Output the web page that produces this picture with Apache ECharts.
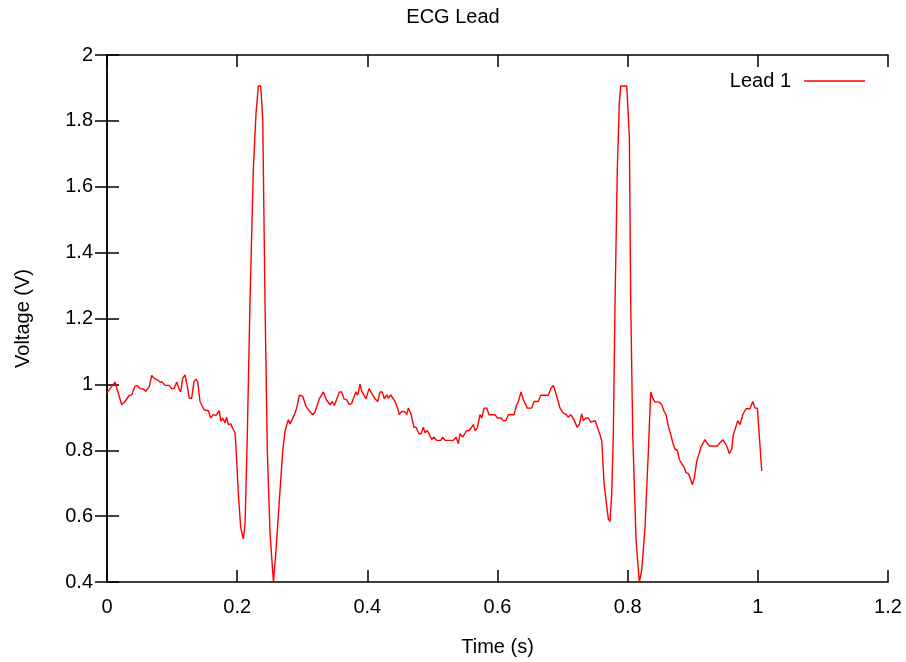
<!DOCTYPE html>
<html>
<head>
<meta charset="utf-8">
<title>ECG Lead</title>
<script src="https://cdn.jsdelivr.net/npm/echarts@6/dist/echarts.min.js"></script>
<style>
  html, body { margin: 0; padding: 0; background: #fff; overflow: hidden; }
  #chart { width: 906px; height: 662px; }
</style>
</head>
<body>
<div id="chart"></div>
<script>
// Lead 1 samples: time in seconds and voltage in volts
const timeSec = [
  0.0000, 0.0123, 0.0226, 0.0277, 0.0303, 0.0343, 0.0380, 0.0430, 0.0466, 0.0507,
  0.0558, 0.0595, 0.0650, 0.0687, 0.0722, 0.0773, 0.0814, 0.0850, 0.0891, 0.0953,
  0.0994, 0.1030, 0.1071, 0.1111, 0.1132, 0.1163, 0.1199, 0.1234, 0.1265, 0.1301,
  0.1337, 0.1368, 0.1394, 0.1429, 0.1491, 0.1557, 0.1593, 0.1633, 0.1675, 0.1695,
  0.1726, 0.1747, 0.1778, 0.1813, 0.1839, 0.1864, 0.1901, 0.1932, 0.1967, 0.1982,
  0.2018, 0.2054, 0.2094, 0.2121, 0.2156, 0.2197, 0.2248, 0.2290, 0.2325, 0.2362,
  0.2393, 0.2428, 0.2463, 0.2505, 0.2558, 0.2597, 0.2648, 0.2700, 0.2735, 0.2786,
  0.2812, 0.2873, 0.2915, 0.2955, 0.3007, 0.3058, 0.3109, 0.3161, 0.3196, 0.3262,
  0.3324, 0.3376, 0.3427, 0.3462, 0.3493, 0.3570, 0.3606, 0.3642, 0.3683, 0.3723,
  0.3760, 0.3822, 0.3852, 0.3888, 0.3914, 0.3980, 0.4026, 0.4052, 0.4118, 0.4160,
  0.4195, 0.4230, 0.4261, 0.4298, 0.4323, 0.4359, 0.4425, 0.4461, 0.4491, 0.4528,
  0.4579, 0.4605, 0.4630, 0.4667, 0.4717, 0.4748, 0.4794, 0.4825, 0.4860, 0.4886,
  0.4922, 0.4952, 0.4989, 0.5025, 0.5066, 0.5128, 0.5158, 0.5194, 0.5321, 0.5363,
  0.5398, 0.5424, 0.5466, 0.5527, 0.5567, 0.5629, 0.5655, 0.5690, 0.5731, 0.5758,
  0.5793, 0.5834, 0.5870, 0.5962, 0.5997, 0.6054, 0.6090, 0.6131, 0.6166, 0.6254,
  0.6295, 0.6320, 0.6362, 0.6397, 0.6423, 0.6458, 0.6526, 0.6561, 0.6627, 0.6664,
  0.6781, 0.6818, 0.6858, 0.6884, 0.6919, 0.6961, 0.7011, 0.7058, 0.7088, 0.7125,
  0.7176, 0.7222, 0.7257, 0.7294, 0.7319, 0.7360, 0.7396, 0.7433, 0.7463, 0.7499,
  0.7525, 0.7565, 0.7602, 0.7637, 0.7668, 0.7703, 0.7729, 0.7755, 0.7780, 0.7806,
  0.7841, 0.7872, 0.7894, 0.7986, 0.8026, 0.8047, 0.8078, 0.8129, 0.8179, 0.8216,
  0.8267, 0.8293, 0.8318, 0.8354, 0.8385, 0.8421, 0.8487, 0.8524, 0.8559, 0.8590,
  0.8625, 0.8662, 0.8693, 0.8728, 0.8763, 0.8794, 0.8831, 0.8866, 0.8897, 0.8932,
  0.8958, 0.8994, 0.9025, 0.9061, 0.9101, 0.9127, 0.9154, 0.9189, 0.9215, 0.9255,
  0.9378, 0.9419, 0.9461, 0.9522, 0.9562, 0.9599, 0.9624, 0.9650, 0.9691, 0.9727,
  0.9768, 0.9819, 0.9880, 0.9922, 0.9957, 0.9993, 1.0060
];

const lead1Volts = [
  0.974, 1.007, 0.938, 0.948, 0.950, 0.967, 0.968, 0.994, 0.996, 0.987,
  0.986, 0.979, 0.994, 1.027, 1.019, 1.014, 1.007, 1.007, 0.997, 0.997,
  0.987, 0.987, 1.007, 0.984, 0.977, 1.019, 1.029, 0.994, 0.958, 0.958,
  1.009, 1.016, 1.007, 0.948, 0.923, 0.920, 0.898, 0.908, 0.906, 0.900,
  0.920, 0.888, 0.898, 0.883, 0.900, 0.878, 0.880, 0.866, 0.853, 0.808,
  0.667, 0.566, 0.531, 0.576, 0.848, 1.250, 1.653, 1.824, 1.906, 1.906,
  1.804, 1.250, 0.800, 0.546, 0.400, 0.496, 0.647, 0.797, 0.858, 0.893,
  0.880, 0.905, 0.928, 0.967, 0.964, 0.933, 0.920, 0.908, 0.916, 0.956,
  0.977, 0.951, 0.938, 0.948, 0.936, 0.977, 0.977, 0.956, 0.953, 0.938,
  0.943, 0.977, 0.967, 1.001, 0.979, 0.956, 0.987, 0.987, 0.956, 0.948,
  0.977, 0.977, 0.956, 0.968, 0.958, 0.968, 0.948, 0.930, 0.908, 0.918,
  0.916, 0.908, 0.928, 0.913, 0.870, 0.870, 0.850, 0.850, 0.870, 0.853,
  0.860, 0.860, 0.833, 0.840, 0.830, 0.830, 0.840, 0.830, 0.830, 0.840,
  0.820, 0.850, 0.840, 0.860, 0.860, 0.878, 0.860, 0.868, 0.908, 0.898,
  0.928, 0.928, 0.908, 0.908, 0.898, 0.898, 0.890, 0.890, 0.908, 0.908,
  0.938, 0.948, 0.977, 0.953, 0.943, 0.928, 0.928, 0.948, 0.948, 0.967,
  0.967, 0.987, 0.997, 0.981, 0.958, 0.928, 0.913, 0.908, 0.900, 0.908,
  0.893, 0.870, 0.878, 0.910, 0.890, 0.898, 0.898, 0.885, 0.880, 0.890,
  0.890, 0.853, 0.828, 0.700, 0.647, 0.591, 0.584, 0.667, 0.848, 1.250,
  1.653, 1.854, 1.906, 1.906, 1.753, 1.250, 0.848, 0.526, 0.400, 0.436,
  0.566, 0.687, 0.797, 0.977, 0.958, 0.946, 0.946, 0.938, 0.918, 0.908,
  0.873, 0.848, 0.823, 0.803, 0.800, 0.772, 0.759, 0.749, 0.732, 0.729,
  0.717, 0.695, 0.717, 0.767, 0.792, 0.810, 0.810, 0.832, 0.823, 0.813,
  0.813, 0.823, 0.832, 0.813, 0.790, 0.803, 0.848, 0.863, 0.890, 0.878,
  0.908, 0.926, 0.926, 0.948, 0.928, 0.928, 0.737
];

const seriesName = 'Lead 1';
const chartTitle = 'ECG Lead';
const xAxisTitle = 'Time (s)';
const yAxisTitle = 'Voltage (V)';

const points = timeSec.map((t, i) => [t, lead1Volts[i]]);

const FONT = '"Liberation Sans", Arial, sans-serif';
const tickFmt = v => String(parseFloat(Number(v).toFixed(2)));
const frameLine = { show: true, lineStyle: { color: '#000', width: 1.5 } };
const innerTick = { show: true, inside: true, length: 12, lineStyle: { color: '#000', width: 1.5 } };

const chart = echarts.init(document.getElementById('chart'), null, { renderer: 'canvas', width: 906, height: 662 });
chart.setOption({
  animation: false,
  backgroundColor: '#fff',
  title: {
    text: chartTitle,
    left: 'center',
    top: 2,
    textStyle: { fontFamily: FONT, fontSize: 20, fontWeight: 'normal', color: '#000' }
  },
  legend: {
    data: [seriesName],
    right: 36,
    top: 66,
    align: 'right',
    icon: 'rect',
    itemWidth: 61,
    itemHeight: 1.5,
    textStyle: { fontFamily: FONT, fontSize: 20, color: '#000', padding: [0, 8, 0, 0] }
  },
  // plot frame: 107..888 horizontally, 55..585 vertically
  grid: { left: 107, width: 781, top: 55, height: 530, containLabel: false },
  xAxis: [
    {
      type: 'value', min: 0, max: 1.2, interval: 0.2,
      name: xAxisTitle, nameLocation: 'middle', nameGap: 55,
      nameTextStyle: { fontFamily: FONT, fontSize: 20, color: '#000' },
      axisLine: frameLine, axisTick: innerTick,
      axisLabel: { fontFamily: FONT, fontSize: 20, color: '#000', margin: 15, formatter: tickFmt },
      splitLine: { show: false }
    },
    {
      type: 'value', position: 'top', min: 0, max: 1.2, interval: 0.2,
      axisLine: frameLine, axisTick: innerTick,
      axisLabel: { show: false }, splitLine: { show: false }
    }
  ],
  yAxis: [
    {
      type: 'value', min: 0.4, max: 2, interval: 0.2,
      name: yAxisTitle, nameLocation: 'middle', nameGap: 74, nameRotate: 90,
      nameTextStyle: { fontFamily: FONT, fontSize: 20, color: '#000' },
      axisLine: frameLine, axisTick: innerTick,
      axisLabel: { fontFamily: FONT, fontSize: 20, color: '#000', margin: 14, formatter: tickFmt },
      splitLine: { show: false }
    },
    {
      type: 'value', position: 'right', min: 0.4, max: 2, interval: 0.2,
      axisLine: frameLine, axisTick: innerTick,
      axisLabel: { show: false }, splitLine: { show: false }
    }
  ],
  series: [
    {
      name: seriesName,
      type: 'line',
      xAxisIndex: 0,
      yAxisIndex: 0,
      data: points,
      showSymbol: false,
      symbol: 'none',
      lineStyle: { color: '#ff0000', width: 1.4 },
      itemStyle: { color: '#ff0000' },
      clip: true
    }
  ]
});
</script>
</body>
</html>
